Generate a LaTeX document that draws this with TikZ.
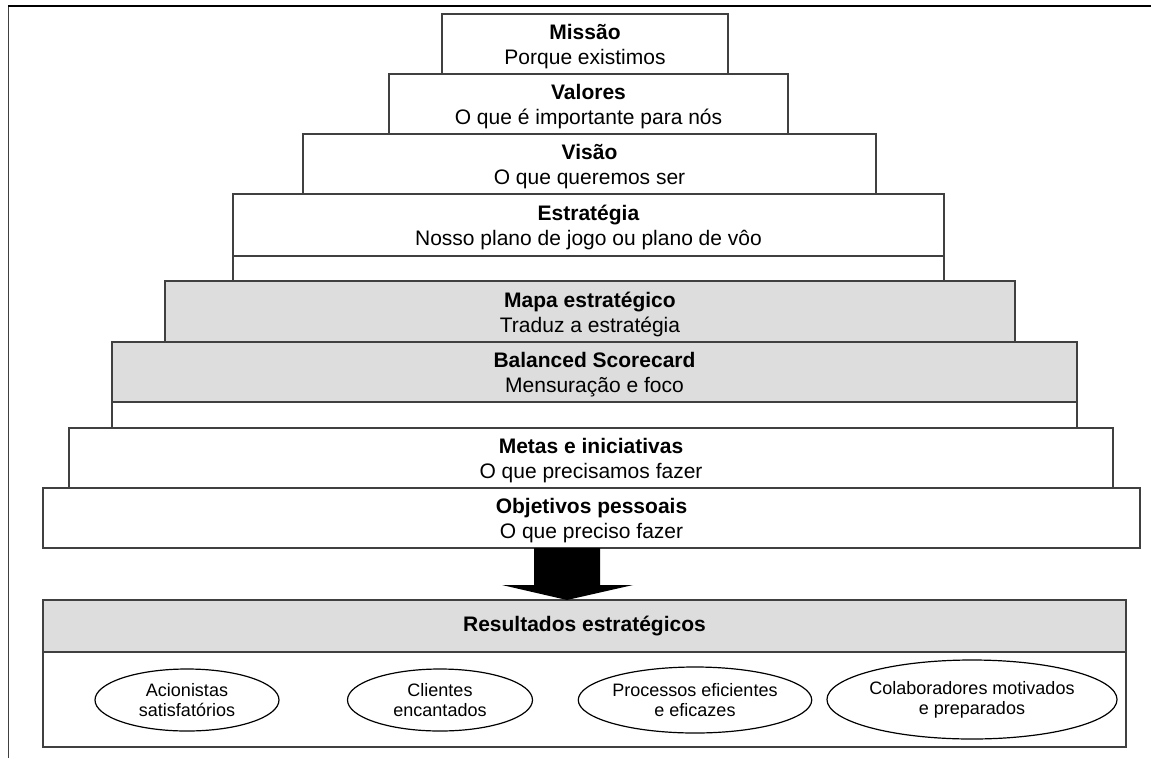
\documentclass[tikz,border=0pt]{standalone}
\usepackage{fontspec}
\setmainfont{Liberation Sans}
\usetikzlibrary{shapes.geometric}
\definecolor{edge}{HTML}{404040}
\definecolor{shade}{HTML}{DDDDDD}
\begin{document}
\begin{tikzpicture}[x=1pt,y=-1pt,
  tier/.style={draw=edge, line width=1.2pt, fill=white, inner sep=0pt},
  shaded/.style={tier, fill=shade},
  caption/.style={inner sep=0pt, align=center, font=\fontsize{21}{25}\selectfont},
  strip/.style={draw=edge, line width=1.2pt, fill=white},
  goal/.style={ellipse, draw=black, line width=1.2pt, fill=white, inner sep=0pt, align=center,
    font=\fontsize{18}{20}\selectfont}]
\useasboundingbox (0,0) rectangle (1151,758);
\fill[white] (0,0) rectangle (1151,758);

% page frame (top and left rules)
\draw[edge, line width=1.2pt] (8.5,758) -- (8.5,5.5);
\draw[black, line width=2pt] (8,5.5) -- (1151,5.5);

% pyramid tiers, bottom to top
\node[tier, minimum width=1097pt, minimum height=60pt] (obj) at (591.5,518) {};
\node[caption] at ([yshift=-2.5pt]obj.center)
  {\textbf{Objetivos pessoais}\\O que preciso fazer};
\node[tier, minimum width=1044pt, minimum height=60pt] (metas) at (591,458) {};
\node[caption] at ([yshift=-2.5pt]metas.center)
  {\textbf{Metas e iniciativas}\\O que precisamos fazer};
\draw[strip] (112,402) rectangle (1077,428);
\node[shaded, minimum width=965pt, minimum height=60pt] (bsc) at (594.5,372) {};
\node[caption] at ([yshift=-2.5pt]bsc.center)
  {\textbf{Balanced Scorecard}\\Mensuração e foco};
\node[shaded, minimum width=850pt, minimum height=61pt] (mapa) at (590,311.5) {};
\node[caption] at ([yshift=-2.5pt]mapa.center)
  {\textbf{Mapa estratégico}\\Traduz a estratégia};
\draw[strip] (233,256) rectangle (944,281);
\node[tier, minimum width=711pt, minimum height=62pt] (estr) at (588.5,225) {};
\node[caption] at ([yshift=-2.5pt]estr.center)
  {\textbf{Estratégia}\\Nosso plano de jogo ou plano de vôo};
\node[tier, minimum width=573pt, minimum height=60pt] (visao) at (589.5,164) {};
\node[caption] at ([yshift=-2.5pt]visao.center)
  {\textbf{Visão}\\O que queremos ser};
\node[tier, minimum width=399pt, minimum height=60pt] (valores) at (588.5,104) {};
\node[caption] at ([yshift=-2.5pt]valores.center)
  {\textbf{Valores}\\O que é importante para nós};
\node[tier, minimum width=286pt, minimum height=60pt] (missao) at (585,44) {};
\node[caption] at ([yshift=-2.5pt]missao.center)
  {\textbf{Missão}\\Porque existimos};

% results panel
\draw[edge, line width=1.2pt, fill=white] (43,600) rectangle (1126,747);
\node[shaded, minimum width=1083pt, minimum height=52pt] (res) at (584.5,626) {};
\node[caption] at (res.center) {\textbf{Resultados estratégicos}};

% block arrow from the pyramid into the results panel
\coordinate (tip) at (567,600);
\fill[black] (534,548) -- (600,548) -- (600,585) -- (633,585) -- (tip)
  -- (502,585) -- (534,585) -- cycle;

% outcomes
\node[goal, minimum width=184pt, minimum height=62pt] (acion) at (187,700)
  {Acionistas\\satisfatórios};
\node[goal, minimum width=185pt, minimum height=62pt] (cli) at (440,700)
  {Clientes\\encantados};
\node[goal, minimum width=190pt, minimum height=66pt] (proc) at (695,700)
  {Processos eficientes\\e eficazes};
\node[goal, minimum width=240pt, minimum height=79pt] (colab) at (972,699.5)
  {Colaboradores motivados\\e preparados};
\end{tikzpicture}
\end{document}
